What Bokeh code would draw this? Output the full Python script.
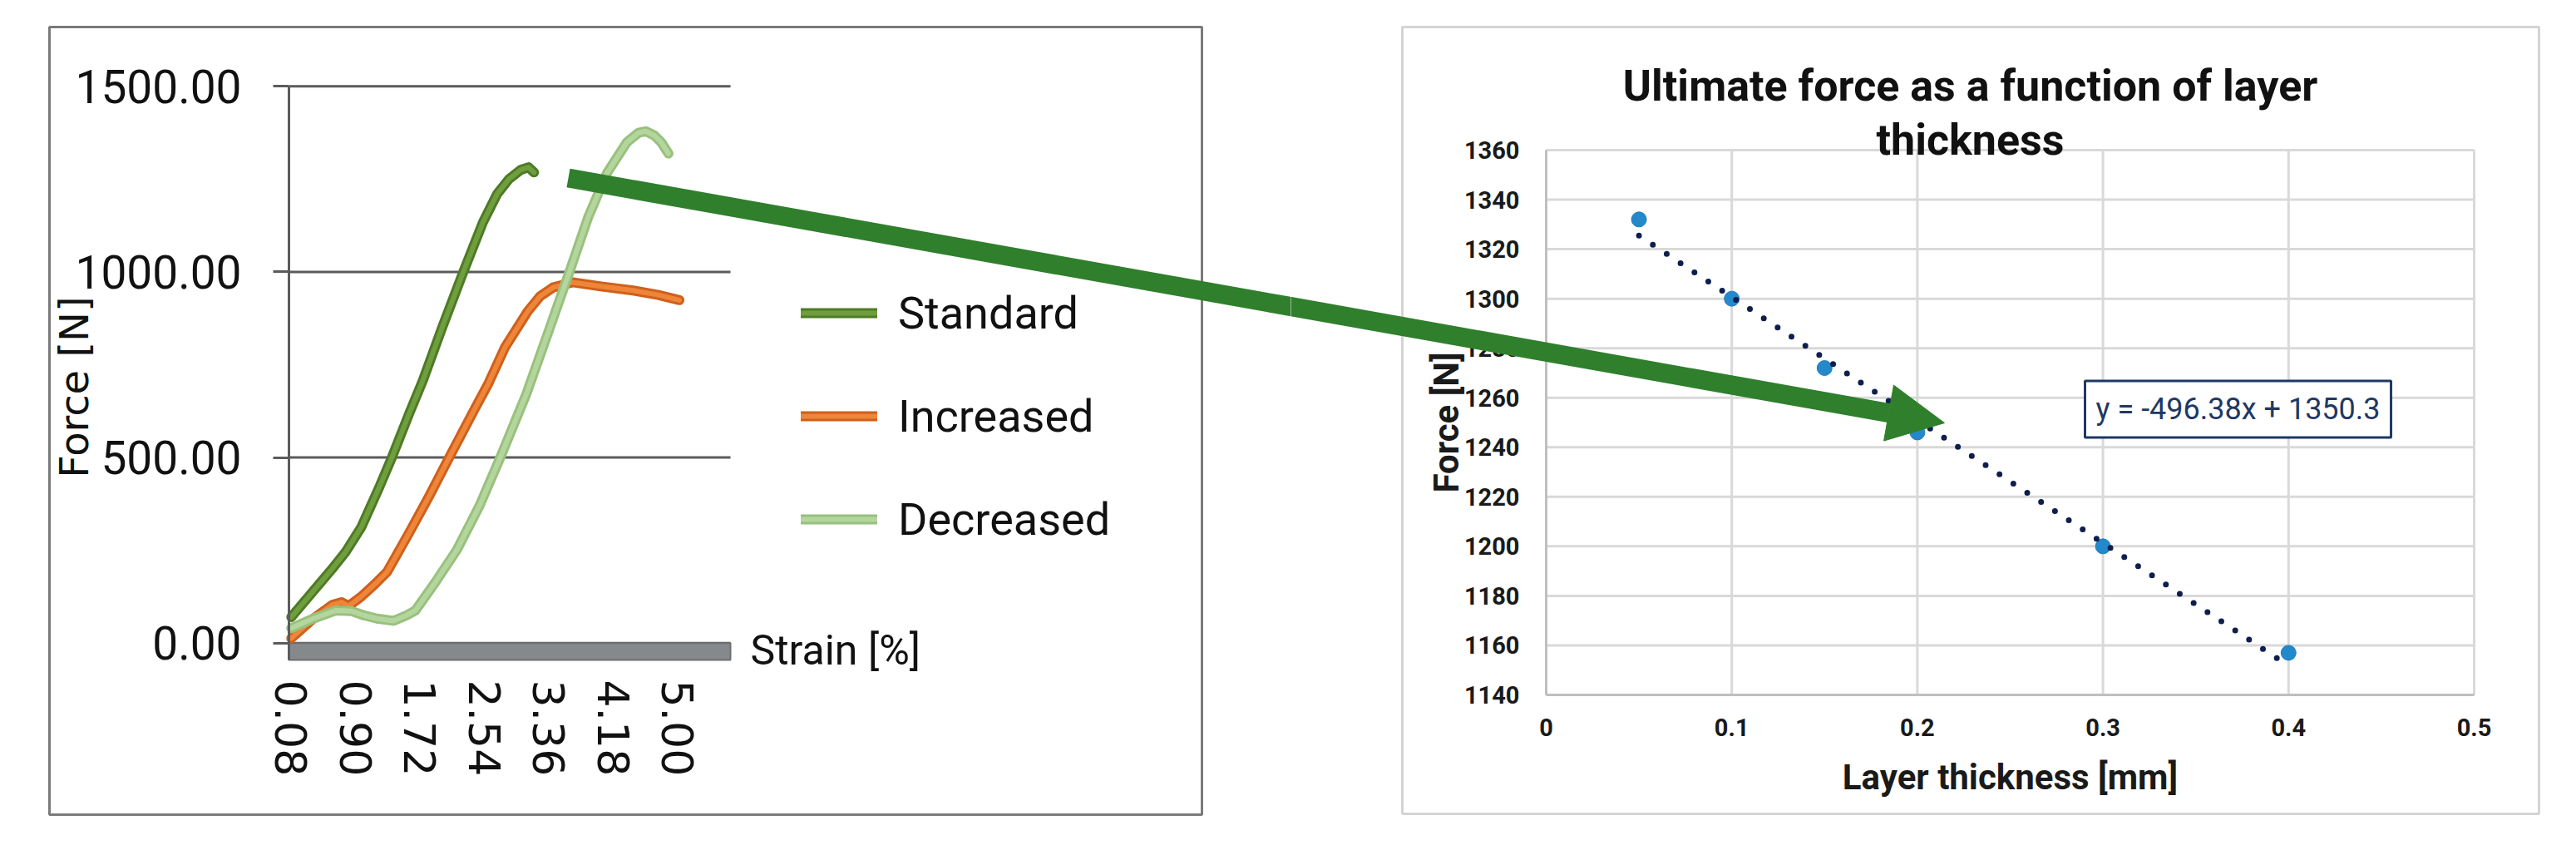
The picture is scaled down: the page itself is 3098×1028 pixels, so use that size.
from bokeh.plotting import figure
from bokeh.layouts import row
from bokeh.models import (Range1d, FixedTicker, PrintfTickFormatter, CustomJSTickFormatter,
                          Legend, LegendItem, Label, Arrow, NormalHead)
from bokeh.embed import file_html
from bokeh.resources import INLINE
import math

# ---------------- Left chart: force vs strain ----------------
standard_strain = [0.08, 0.36, 0.60, 0.77, 0.97, 1.20, 1.36, 1.58, 1.75, 2.00, 2.27, 2.52, 2.70, 2.85, 3.00, 3.10, 3.17]
standard_force = [70, 140, 200, 245, 312, 420, 500, 618, 705, 850, 1000, 1134, 1210, 1250, 1275, 1282, 1268]

increased_strain = [0.08, 0.36, 0.60, 0.72, 0.81, 0.97, 1.15, 1.30, 1.58, 1.83, 2.09, 2.40, 2.59, 2.80, 3.09, 3.25, 3.41, 3.66, 4.02, 4.43, 4.75, 5.02]
increased_force = [13, 66, 103, 110, 100, 125, 160, 192, 297, 394, 500, 625, 700, 797, 894, 935, 958, 972, 961, 950, 938, 924]

decreased_strain = [0.08, 0.36, 0.65, 0.85, 1.00, 1.17, 1.38, 1.55, 1.66, 1.91, 2.19, 2.48, 2.74, 3.07, 3.37, 3.62, 3.86, 4.10, 4.35, 4.50, 4.59, 4.70, 4.79, 4.88]
decreased_force = [40, 66, 88, 86, 75, 66, 60, 75, 88, 163, 252, 372, 500, 670, 849, 1000, 1148, 1267, 1349, 1375, 1379, 1368, 1349, 1319]

series_names = ["Standard", "Increased", "Decreased"]
strain_ticks = [0.08, 0.90, 1.72, 2.54, 3.36, 4.18, 5.00]
force_ticks = [0, 500, 1000, 1500]

# ---------------- Right chart: ultimate force vs layer thickness ----------------
layer_thickness = [0.05, 0.10, 0.15, 0.20, 0.30, 0.40]
ultimate_force = [1332, 1300, 1272, 1246, 1200, 1157]
trend_slope = -496.38
trend_intercept = 1350.3
thickness_ticks = [0, 0.1, 0.2, 0.3, 0.4, 0.5]
ult_force_ticks = [1140, 1160, 1180, 1200, 1220, 1240, 1260, 1280, 1300, 1320, 1340, 1360]

# ---------------- layout constants (canvas pixels) ----------------
H = 1012
LEFT_W = 1552
RIGHT_W = 1530
RIGHT_OFF = LEFT_W          # x of the right canvas, relative to the left canvas
ARROW_COLOR = "#2F7F2C"


def canvas_ranges(W, Hh, px_l, px_r, x0, x1, px_t, px_b, y0, y1):
    """Ranges so that the plot box [x0,x1]x[y0,y1] lands on the given canvas pixels
    while the frame covers the whole canvas."""
    kx = (px_r - px_l) / (x1 - x0)
    ky = (px_b - px_t) / (y1 - y0)
    xr = Range1d(x0 - px_l / kx, x1 + (W - px_r) / kx)
    yr = Range1d(y0 - (Hh - px_b) / ky, y1 + px_t / ky)
    return xr, yr


def px2data(xr, yr, W, Hh, cx, cy):
    return (xr.start + cx / W * (xr.end - xr.start), yr.end - cy / Hh * (yr.end - yr.start))


def panel_border(p, xr, yr, W, Hh, l, t, r, b, color):
    x0, y0 = px2data(xr, yr, W, Hh, l, b)
    x1, y1 = px2data(xr, yr, W, Hh, r, t)
    p.quad(left=[x0], right=[x1], bottom=[y0], top=[y1], fill_color=None,
           line_color=color, line_width=3, level="underlay")


def style_fixed_axis(ax):
    ax.major_tick_in = 0
    ax.minor_tick_in = 0
    ax.minor_tick_out = 0
    ax.minor_tick_line_color = None


# ======================= LEFT FIGURE =======================
x_lo, x_hi = 0.05, 5.67
bar_depth = 45.5
f_top = 1500
lxr, lyr = canvas_ranges(LEFT_W, H, 347, 878, x_lo, x_hi, 103.3, 793, -bar_depth, f_top)
left = figure(width=LEFT_W, height=H, x_range=lxr, y_range=lyr, title=None,
              output_backend="svg", toolbar_location=None,
              min_border_left=0, min_border_right=0, min_border_top=0, min_border_bottom=0)
left.outline_line_color = None
left.background_fill_color = "white"
left.border_fill_color = "white"
left.grid.visible = False

panel_border(left, lxr, lyr, LEFT_W, H, 59, 32, 1445, 979, "#7A7A7A")

# horizontal gridlines limited to the plot area
left.segment(x0=x_lo, x1=x_hi, y0=force_ticks, y1=force_ticks,
             line_color="#5B5B5B", line_width=3, level="underlay")

ya = left.yaxis[0]
style_fixed_axis(ya)
ya.fixed_location = x_lo
ya.bounds = (-bar_depth, f_top)
ya.ticker = FixedTicker(ticks=force_ticks)
ya.formatter = PrintfTickFormatter(format="%.2f")
ya.major_label_text_font = "Roboto"
ya.major_label_text_font_size = "55px"
ya.major_label_text_color = "#111111"
ya.major_tick_out = 19
ya.major_tick_line_color = "#5B5B5B"
ya.major_tick_line_width = 3
ya.axis_line_color = "#5B5B5B"
ya.axis_line_width = 3
ya.major_label_standoff = 38

xa = left.xaxis[0]
style_fixed_axis(xa)
xa.fixed_location = -bar_depth
xa.bounds = (x_lo, x_hi)
xa.ticker = FixedTicker(ticks=strain_ticks)
xa.formatter = PrintfTickFormatter(format="%.2f")
xa.major_label_orientation = "vertical"
xa.major_label_text_font = "DejaVu Sans"
xa.major_label_text_font_size = "52px"
xa.major_label_text_color = "#111111"
xa.axis_line_color = None
xa.major_tick_line_color = None
xa.major_tick_out = 0
xa.major_label_standoff = 24

# y axis title (rotated)
left.add_layout(Label(x=88, y=465, x_units="canvas", y_units="canvas", text="Force [N]", angle=math.pi / 2,
                      text_font="DejaVu Sans", text_font_size="48px", text_color="#111111",
                      text_align="center", text_baseline="middle"))

# grey floor bar under the zero line
left.quad(left=[x_lo], right=[x_hi], bottom=[-bar_depth], top=[0],
          fill_color="#86898C", line_color="#6C7073", line_width=2)

styles = [("#4E7A25", "#6F9E3E"), ("#CF601B", "#EE8539"), ("#98C17D", "#B4D69E")]
data = [(standard_strain, standard_force), (increased_strain, increased_force),
        (decreased_strain, decreased_force)]
items = []
for name, (xs, ys), (edge, mid) in zip(series_names, data, styles):
    o = left.line(xs, ys, line_color=edge, line_width=12, line_join="round", line_cap="round")
    i = left.line(xs, ys, line_color=mid, line_width=6, line_join="round", line_cap="round")
    items.append(LegendItem(label=name, renderers=[o, i]))

legend = Legend(items=items, location=(963, 355), glyph_width=92, glyph_height=66, label_height=66,
                label_text_font="Roboto", label_text_font_size="54px", label_text_color="#111111",
                label_standoff=25, spacing=58, padding=0, margin=0,
                border_line_color=None, background_fill_alpha=0)
left.add_layout(legend)

left.add_layout(Label(x=902, y=781, x_units="canvas", y_units="canvas", text="Strain [%]",
                      text_font="Roboto", text_font_size="50px",
                      text_color="#111111", text_baseline="middle", text_align="left"))

# arrow geometry (canvas pixels of the left figure)
a_x0, a_y0 = 683.0, 213.5
a_x1, a_y1 = 2338.0, 508.0
slope = (a_y1 - a_y0) / (a_x1 - a_x0)


def y_on(xp):
    return a_y0 + (xp - a_x0) * slope


left.add_layout(Arrow(start=None, end=None,
                      x_start=a_x0, y_start=a_y0,
                      x_end=1640, y_end=y_on(1640),
                      start_units="canvas", end_units="canvas",
                      line_color=ARROW_COLOR, line_width=23))

# ======================= RIGHT FIGURE =======================
t_lo, t_hi = 0.0, 0.5
u_lo, u_hi = 1140, 1360
rxr, ryr = canvas_ranges(RIGHT_W, H, 307, 1423, t_lo, t_hi, 180, 835, u_lo, u_hi)
right = figure(width=RIGHT_W, height=H, x_range=rxr, y_range=ryr, title=None,
               output_backend="svg", toolbar_location=None,
               min_border_left=0, min_border_right=0, min_border_top=0, min_border_bottom=0)
right.outline_line_color = None
right.background_fill_color = "white"
right.border_fill_color = "white"
right.grid.visible = False

panel_border(right, rxr, ryr, RIGHT_W, H, 134, 32, 1501, 978, "#D4D4D4")

# gridlines limited to the plot area
right.segment(x0=t_lo, x1=t_hi, y0=ult_force_ticks, y1=ult_force_ticks,
              line_color="#D9D9D9", line_width=3, level="underlay")
right.segment(x0=thickness_ticks, x1=thickness_ticks, y0=u_lo, y1=u_hi,
              line_color="#D9D9D9", line_width=3, level="underlay")

for ax in (right.xaxis[0], right.yaxis[0]):
    style_fixed_axis(ax)
    ax.axis_line_color = "#BFBFBF"
    ax.axis_line_width = 3
    ax.major_tick_line_color = None
    ax.major_tick_out = 0
    ax.major_label_text_font = "Roboto"
    ax.major_label_text_font_size = "29px"
    ax.major_label_text_font_style = "bold"
    ax.major_label_text_color = "#1A1A1A"
    ax.axis_label_text_font = "Roboto"
    ax.axis_label_text_font_size = "42px"
    ax.axis_label_text_font_style = "bold"
    ax.axis_label_text_color = "#1A1A1A"

rx = right.xaxis[0]
rx.fixed_location = u_lo
rx.bounds = (t_lo, t_hi)
rx.ticker = FixedTicker(ticks=thickness_ticks)
rx.formatter = CustomJSTickFormatter(code="return tick == 0 ? '0' : tick.toFixed(1);")
rx.major_label_standoff = 28
rx.axis_label = "Layer thickness [mm]"
rx.axis_label_standoff = 22

ry = right.yaxis[0]
ry.fixed_location = t_lo
ry.bounds = (u_lo, u_hi)
ry.ticker = FixedTicker(ticks=ult_force_ticks)
ry.major_label_standoff = 32
ry.axis_label = "Force [N]"
ry.axis_label_standoff = -6

# chart title (two lines, centred on the panel)
for txt, ty in (("Ultimate force as a function of layer", 103), ("thickness", 168)):
    right.add_layout(Label(x=817, y=ty, x_units="canvas", y_units="canvas", text=txt,
                           text_font="Roboto", text_font_size="52px", text_font_style="bold",
                           text_color="#111111", text_align="center", text_baseline="middle"))

right.scatter(layer_thickness, ultimate_force, size=18, fill_color="#2489CB", line_color="#1E7DBE")
trend_x = [layer_thickness[0], layer_thickness[-1]]
trend_y = [trend_slope * v + trend_intercept for v in trend_x]
right.line(trend_x, trend_y, line_color="#0E1F4D", line_width=7, line_dash="0 20", line_cap="round")

right.add_layout(Label(x=955, y=491.5, x_units="canvas", y_units="canvas",
                       text=f"y = {trend_slope}x + {trend_intercept}",
                       text_font="Roboto", text_font_size="36px", text_color="#1F3864",
                       text_baseline="middle", text_align="left", padding=13,
                       border_line_color="#1F3864", border_line_width=3,
                       background_fill_color="white"))

right.add_layout(Arrow(start=None, end=NormalHead(size=68, fill_color=ARROW_COLOR, line_color=ARROW_COLOR, line_width=1),
                       x_start=1480 - RIGHT_OFF, y_start=y_on(1480),
                       x_end=a_x1 - RIGHT_OFF, y_end=a_y1,
                       start_units="canvas", end_units="canvas",
                       line_color=ARROW_COLOR, line_width=23))

layout = row(left, right, spacing=0)
open("out.html", "w").write(file_html(layout, INLINE))
